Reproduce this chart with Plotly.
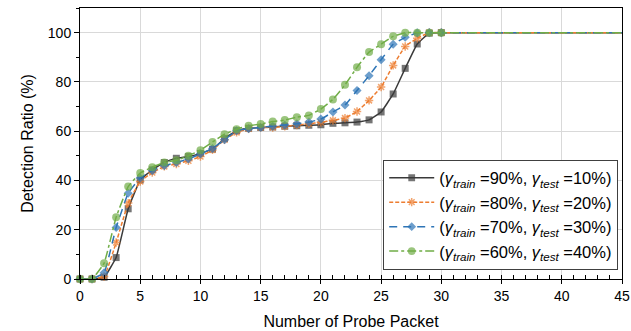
import plotly.graph_objects as go

x_vals = list(range(0, 31)) + [45]

black_90 = [0, 0, 0.7, 8.7, 28.5, 40.2, 44.3, 47.3, 49, 49.7, 51, 52.7, 57, 60.2, 61.2, 61.5, 61.7,
            62, 62.2, 62.4, 62.6, 63.2, 63.4, 63.7, 64.6, 67.8, 75.1, 85.5, 95.4, 99.8, 100, 100]
orange_80 = [0, 0, 1, 14.8, 30.8, 39.6, 43.2, 45.7, 46.7, 48, 49.7, 52.4, 56.5, 59.5, 61, 61.5, 61.5,
             62, 62.5, 63, 63.6, 64.4, 65.3, 68, 72.5, 77.9, 86.7, 94.4, 97.7, 100, 100, 100]
blue_70 = [0, 0, 2.5, 20.9, 34.8, 41, 44, 46, 47.3, 48.7, 50.8, 53, 56.5, 60.2, 61, 61.5, 62,
           62.5, 63, 63.7, 64.9, 67.8, 70.6, 76.5, 82.5, 89, 95.3, 98.1, 99.9, 100, 100, 100]
green_60 = [0, 0, 6.4, 25.1, 37.5, 43, 45.4, 47.3, 48.2, 50, 52.3, 55.6, 58.8, 60.8, 62.2, 62.9, 63.9,
            64.5, 65.7, 66.4, 69, 72.9, 78.8, 85.9, 92.1, 95.3, 98.5, 100, 100, 100, 100, 100]

names = [
    "(<i>γ</i><sub><i>train</i></sub> =90%, <i>γ</i><sub><i>test</i></sub> =10%)",
    "(<i>γ</i><sub><i>train</i></sub> =80%, <i>γ</i><sub><i>test</i></sub> =20%)",
    "(<i>γ</i><sub><i>train</i></sub> =70%, <i>γ</i><sub><i>test</i></sub> =30%)",
    "(<i>γ</i><sub><i>train</i></sub> =60%, <i>γ</i><sub><i>test</i></sub> =40%)",
]
series = [black_90, orange_80, blue_70, green_60]
colors = ["#3A3A3A", "#ED7D31", "#2E75B6", "#70AD47"]
dashes = ["solid", "4px,2px", "8px,6px", "9px,3px,3px,3px"]
symbols = ["square", "asterisk-open", "diamond", "circle"]
msizes = [7, 7, 7, 8]

fig = go.Figure()
for ys, nm, c, d, s, ms in zip(series, names, colors, dashes, symbols, msizes):
    sizes = [ms if xv <= 30 else 0 for xv in x_vals]
    fig.add_trace(go.Scatter(
        x=x_vals, y=ys, name=nm, mode="lines+markers",
        line=dict(color=c, width=1.5, dash=d, shape="spline", smoothing=0.3),
        marker=dict(symbol=s, size=sizes, color=c,
                    line=dict(color=c, width=1.5 if s == "asterisk-open" else 0)),
        cliponaxis=False,
    ))

fig.update_layout(
    template="none",
    width=631, height=331,
    margin=dict(l=80, r=9, t=8, b=52),
    paper_bgcolor="white", plot_bgcolor="white",
    font=dict(family="Arial, Liberation Sans, sans-serif", size=14, color="black"),
    legend=dict(
        x=0.993, y=0.035, xanchor="right", yanchor="bottom",
        bgcolor="white", bordercolor="#404040", borderwidth=1,
        font=dict(size=16.5), tracegroupgap=0, itemwidth=45,
    ),
    xaxis=dict(
        range=[0, 45], tickvals=list(range(0, 46, 5)), automargin=False,
        showgrid=True, gridcolor="#d9d9d9", gridwidth=1,
        showline=True, linecolor="black", linewidth=1, mirror=True,
        ticks="outside", ticklen=4, tickcolor="black",
        minor=dict(dtick=1, tick0=0, ticks="inside", ticklen=4, tickcolor="black", showgrid=False),
        title=dict(text="Number of Probe Packet", font=dict(size=16), standoff=13),
        zeroline=False,
    ),
    yaxis=dict(
        range=[0, 110], tickvals=[0, 20, 40, 60, 80, 100], automargin=False,
        showgrid=True, gridcolor="#d9d9d9", gridwidth=1,
        showline=True, linecolor="black", linewidth=1, mirror=True,
        ticks="outside", ticklen=5, tickcolor="black",
        minor=dict(tickvals=[10, 30, 50, 70, 90, 110], ticks="outside", ticklen=3, tickcolor="black",
                   showgrid=False),
        title=dict(text="Detection Ratio (%)", font=dict(size=16), standoff=10),
        zeroline=False,
    ),
)

fig.write_html("out.html")
